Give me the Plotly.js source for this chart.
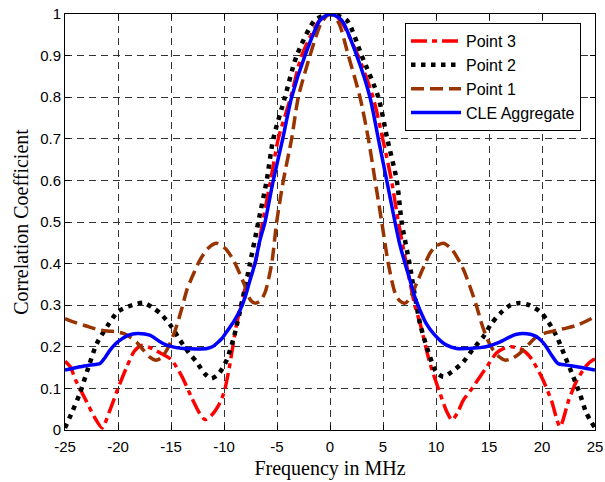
<!DOCTYPE html>
<html>
<head>
<meta charset="utf-8">
<script src="https://cdn.plot.ly/plotly-3.0.1.min.js"></script>
<style>html,body{margin:0;padding:0;background:#fff;}#chart{width:605px;height:482px;}</style>
</head>
<body>
<div id="chart"></div>
<script>
// Point 3 (red dash-dot)
const p3x = [-25,-24.5,-24,-23,-22.2,-21.5,-20.8,-20,-19.2,-18.5,-17.8,-17,-16,-15,-14,-13,-12.3,-11.8,-11.2,-10.5,-10,-9.5,-8.8,-8,-7.5,-7.08,-6.35,-5.6,-4.88,-3.7,-2.67,-0.94,0,0.94,2.64,4.06,4.97,5.8,6.45,7.2,8,8.5,9.43,10.38,11,11.5,12,12.58,13.4,14.15,15,15.7,16.4,17.1,18,18.87,19.5,20.1,20.9,21.7,22.5,23.3,24.2,24.8,25];
const p3y = [0.165,0.152,0.12,0.07,0.03,0.005,0.045,0.1,0.15,0.188,0.203,0.198,0.185,0.17,0.13,0.075,0.04,0.025,0.035,0.06,0.09,0.15,0.256,0.34,0.38,0.40,0.50,0.60,0.70,0.80,0.90,0.986,1.0,0.986,0.90,0.80,0.70,0.60,0.50,0.40,0.30,0.256,0.16,0.088,0.045,0.024,0.04,0.072,0.1,0.128,0.16,0.185,0.196,0.20,0.195,0.176,0.15,0.12,0.07,0.008,0.07,0.12,0.155,0.168,0.17];
// Point 2 (black dotted)
const p2x = [-25,-24.3,-23.6,-22.8,-22,-21,-20,-19,-17.6,-16.8,-16,-15,-14.15,-13.3,-12.6,-11.8,-11.2,-10.5,-9.75,-9,-8.2,-7.55,-6.76,-5.97,-5.35,-4.25,-3.14,-1.42,0,1.57,2.99,4.56,5.4,6.3,6.76,7.5,8.49,9.43,10,10.7,11.5,12.58,13.5,14.46,15.2,16.04,17,17.9,18.8,19.8,20.6,21.4,22.2,22.95,23.6,24.2,25];
const p2y = [0.005,0.045,0.088,0.15,0.208,0.25,0.285,0.297,0.306,0.295,0.28,0.25,0.216,0.185,0.164,0.135,0.124,0.135,0.168,0.23,0.32,0.40,0.50,0.60,0.70,0.80,0.90,0.985,1.0,0.985,0.90,0.80,0.70,0.60,0.50,0.40,0.256,0.176,0.14,0.128,0.14,0.164,0.195,0.224,0.255,0.28,0.30,0.305,0.30,0.285,0.26,0.224,0.175,0.128,0.085,0.04,0.005];
// Point 1 (brown dashed)
const p1x = [-25,-24,-23,-22,-21,-20.1,-19.5,-18.9,-18.2,-17.6,-17,-16.5,-16,-15.4,-14.6,-14,-13.5,-12.8,-12.26,-11.5,-10.7,-9.9,-9.12,-8.5,-8,-7.5,-7.08,-6.6,-6.13,-5.5,-5.03,-4.4,-3.62,-2.99,-1.89,-0.8,0,0.8,1.73,2.83,3.62,4.25,4.88,5.5,6.13,6.6,7.08,7.5,8.18,8.8,9.43,10,10.69,11.4,11.95,12.6,13.2,13.8,14.3,14.9,15.4,16,16.5,17.2,17.9,18.7,19.5,20.4,21.4,22.3,23.3,24.2,25];
const p1y = [0.268,0.258,0.25,0.242,0.238,0.236,0.232,0.224,0.21,0.192,0.175,0.168,0.172,0.192,0.24,0.29,0.337,0.38,0.409,0.437,0.449,0.437,0.409,0.375,0.345,0.312,0.305,0.31,0.33,0.40,0.50,0.60,0.70,0.80,0.90,0.98,1.0,0.98,0.90,0.80,0.70,0.60,0.50,0.40,0.33,0.31,0.305,0.315,0.353,0.39,0.425,0.442,0.449,0.437,0.417,0.385,0.345,0.30,0.256,0.215,0.192,0.175,0.168,0.172,0.184,0.205,0.224,0.234,0.24,0.245,0.252,0.262,0.272];
// CLE Aggregate (blue solid)
const cx = [-25,-24.3,-23.6,-22.6,-21.7,-21.2,-20.75,-20.2,-19.8,-19,-18.2,-17,-16.2,-15.4,-14.5,-13.8,-12.5,-11.6,-11.1,-10.7,-10.2,-9.75,-9.1,-8.49,-8,-7.55,-7.08,-6.6,-6.13,-5.35,-4.46,-3.62,-2.36,-0.94,0,1.1,2.52,3.77,4.56,5.35,6.13,6.5,7.08,7.55,8,8.49,9.1,9.75,10.4,11,11.95,13,14.15,15,15.7,16.3,16.98,17.6,18.2,18.9,19.5,20,20.4,20.9,21.5,22.3,23.3,24.2,25];
const cy = [0.144,0.148,0.152,0.156,0.16,0.175,0.192,0.208,0.216,0.228,0.232,0.228,0.215,0.204,0.198,0.196,0.195,0.196,0.2,0.208,0.22,0.236,0.26,0.288,0.32,0.36,0.40,0.457,0.50,0.60,0.70,0.80,0.90,0.985,1.0,0.985,0.90,0.80,0.70,0.60,0.50,0.455,0.40,0.36,0.32,0.288,0.255,0.232,0.215,0.204,0.196,0.196,0.198,0.202,0.208,0.215,0.224,0.23,0.232,0.23,0.224,0.213,0.20,0.18,0.16,0.156,0.152,0.148,0.144];

const seriesNames = ['Point 3','Point 2','Point 1','CLE Aggregate'];
const xTickVals = [-25,-20,-15,-10,-5,0,5,10,15,20,25];
const xTickText = ['-25','-20','-15','-10','-5','0','5','10','15','20','25'];
const yTickVals = [0,0.1,0.2,0.3,0.4,0.5,0.6,0.7,0.8,0.9,1];
const yTickText = ['0','0.1','0.2','0.3','0.4','0.5','0.6','0.7','0.8','0.9','1'];

const sm = 0.7;
const traces = [
  {x:p3x, y:p3y, name:seriesNames[0], mode:'lines', line:{color:'#ff0000', width:3.5, dash:'16px,5px,5px,5px', shape:'spline', smoothing:sm}},
  {x:p2x, y:p2y, name:seriesNames[1], mode:'lines', line:{color:'#000000', width:4.5, dash:'4.5px,5.5px', shape:'spline', smoothing:sm}},
  {x:p1x, y:p1y, name:seriesNames[2], mode:'lines', line:{color:'#993300', width:3.5, dash:'13px,6px', shape:'spline', smoothing:sm}},
  {x:cx, y:cy, name:seriesNames[3], mode:'lines', line:{color:'#0000ff', width:3.5, shape:'spline', smoothing:sm}}
];

const axisCommon = {
  showline:true, linecolor:'#000', linewidth:1, mirror:'ticks',
  ticks:'inside', ticklen:5, tickcolor:'#000',
  showgrid:true, gridcolor:'#333', gridwidth:1, griddash:'7px,5px',
  zeroline:false,
  tickfont:{family:'Liberation Sans, Arial, sans-serif', size:15, color:'#000'}
};

const layout = {
  width:605, height:482,
  margin:{l:65, r:10, t:14, b:52},
  paper_bgcolor:'#fff', plot_bgcolor:'#fff',
  showlegend:true,
  xaxis: Object.assign({}, axisCommon, {
    range:[-25,25], tickmode:'array', tickvals:xTickVals, ticktext:xTickText,
    ticklabelstandoff:3,
    title:{text:'Frequency in MHz', font:{family:'Liberation Serif, Times New Roman, serif', size:20, color:'#000'}, standoff:6}
  }),
  yaxis: Object.assign({}, axisCommon, {
    range:[0,1], tickmode:'array', tickvals:yTickVals, ticktext:yTickText,
    title:{text:'Correlation Coefficient', font:{family:'Liberation Serif, Times New Roman, serif', size:20, color:'#000'}, standoff:6}
  }),
  legend:{
    x:0.6415, y:0.978, xanchor:'left', yanchor:'top',
    bgcolor:'#fff', bordercolor:'#000', borderwidth:1,
    font:{family:'Liberation Sans, Arial, sans-serif', size:16, color:'#000'},
    itemwidth:50,
    traceorder:'normal'
  }
};

Plotly.newPlot('chart', traces, layout, {displayModeBar:false, staticPlot:true});
</script>
</body>
</html>
